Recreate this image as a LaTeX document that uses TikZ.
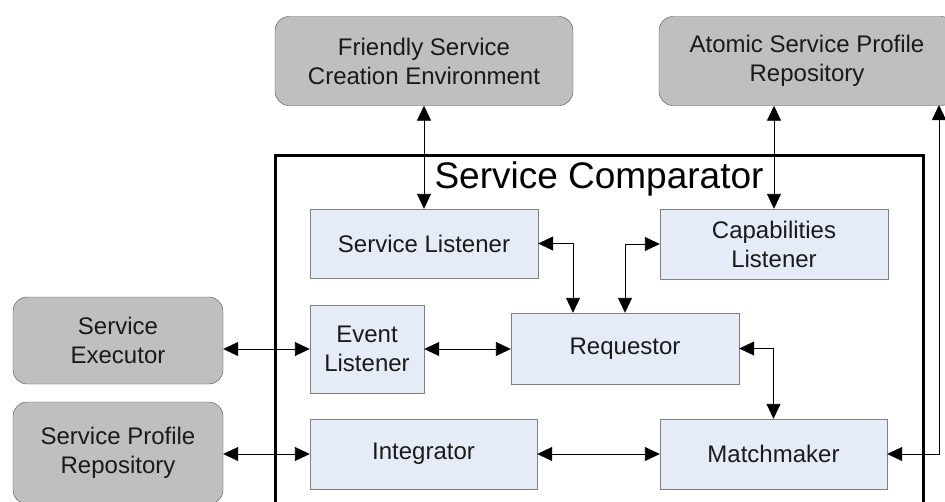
\documentclass[tikz,border=0pt]{standalone}
\usepackage{fontspec}
\setmainfont{Liberation Sans}
\usetikzlibrary{arrows.meta}
\definecolor{outgray}{HTML}{BFBFBF}
\definecolor{inblue}{HTML}{E6ECF7}
\definecolor{inkgray}{HTML}{1A1A1A}
\tikzset{
  outbox/.style={draw=black!70, fill=outgray, rounded corners=14pt, align=center, inner sep=0pt, text=inkgray},
  inbox/.style={draw=black!50, fill=inblue, align=center, inner sep=0pt, text=inkgray},
  link/.style={line width=0.9pt, {Triangle[width=14pt,length=15pt]}-{Triangle[width=14pt,length=15pt]}}
}

\begin{document}
\begin{tikzpicture}[x=1pt,y=-1pt,font=\fontsize{24}{29}\selectfont]
        \useasboundingbox (0,0) rectangle (945,501);
        \clip (0,0) rectangle (945,501);

        %the comparator frame
        \draw[line width=3pt] (275,155) rectangle (923,515);
        \node[anchor=base, font=\fontsize{37}{44}\selectfont] (title) at (599,188) {Service Comparator};

        %outer components
        \foreach \name/\pos/\bw/\bh/\txt in {fsce/{424,61}/298/89/{Friendly Service\\Creation Environment},
            aspr/{807,61}/296/89/{Atomic Service Profile\\Repository},
            sexec/{118,340.5}/210/87/{Service\\Executor},
            sprof/{118,453}/210/102/{Service Profile\\Repository}}{
          \node[outbox, minimum width=\bw pt, minimum height=\bh pt] (\name) at (\pos) {\txt};
        }

        %inner components
        \foreach \name/\pos/\bw/\bh/\txt in {slisten/{424,243.5}/228/69/{Service Listener},
            clisten/{774,244}/228/70/{Capabilities\\Listener},
            elisten/{367,349}/114/88/{Event\\Listener},
            req/{625,348.5}/228/71/{Requestor},
            integ/{423.5,454}/227/70/{Integrator},
            mmaker/{773.5,454}/227/70/{Matchmaker}}{
          \node[inbox, minimum width=\bw pt, minimum height=\bh pt] (\name) at (\pos) {\txt};
        }

        %links
        \coordinate (rtop) at (939,105);
        \draw[link] (fsce.south) -- (slisten.north);
        \draw[link] (clisten.north |- aspr.south) -- (clisten.north);
        \draw[link] (rtop) |- (mmaker.east);
        \draw[link] (slisten.east) -| ([xshift=-52pt]req.north);
        \draw[link] (clisten.west) -| (req.north);
        \draw[link] (elisten.west -| sexec.east) -- (elisten.west);
        \draw[link] (elisten.east) -- (elisten.east -| req.west);
        \draw[link] (req.east) -| (mmaker.north);
        \draw[link] (integ.west -| sprof.east) -- (integ.west);
        \draw[link] (integ.east) -- (mmaker.west);
\end{tikzpicture}
\end{document}
